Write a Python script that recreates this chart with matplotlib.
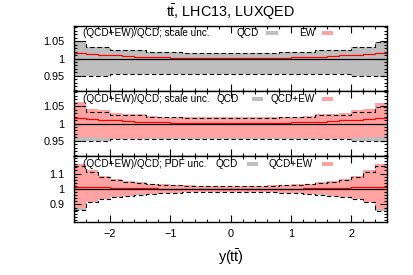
import numpy as np
import matplotlib
matplotlib.use("Agg")
import matplotlib.pyplot as plt
from matplotlib.patches import Rectangle
from matplotlib.ticker import MultipleLocator, FixedLocator

plt.rcParams['font.family'] = ['Liberation Sans', 'DejaVu Sans']
plt.rcParams['mathtext.fontset'] = 'custom'
plt.rcParams['mathtext.rm'] = 'Liberation Sans'
plt.rcParams['mathtext.it'] = 'Liberation Sans:italic'

# bin edges in y(tt)
edges = [-2.6, -2.4, -2.2, -2.0, -1.8, -1.6, -1.4, -1.2, -1.0, -0.8, -0.6, -0.4, -0.2,
         0.0, 0.2, 0.4, 0.6, 0.8, 1.0, 1.2, 1.4, 1.6, 1.8, 2.0, 2.2, 2.4, 2.6]

# (QCD+EW)/QCD central ratio
ratio = [1.016, 1.013, 1.011, 1.009, 1.007, 1.005, 1.004, 1.003, 1.002, 1.002, 1.001, 1.001, 1.001,
         1.001, 1.001, 1.001, 1.002, 1.002, 1.003, 1.004, 1.005, 1.007, 1.009, 1.011, 1.013, 1.016]

# QCD scale uncertainty band
scale_up = [1.050, 1.034, 1.034, 1.024, 1.024, 1.023, 1.018, 1.018, 1.018, 1.017, 1.017, 1.017, 1.017,
            1.017, 1.017, 1.017, 1.017, 1.018, 1.018, 1.018, 1.023, 1.024, 1.024, 1.034, 1.034, 1.048]
scale_dn = [0.950, 0.950, 0.950, 0.956, 0.956, 0.956, 0.957, 0.957, 0.957, 0.957, 0.957, 0.957, 0.957,
            0.957, 0.957, 0.957, 0.957, 0.957, 0.957, 0.957, 0.956, 0.956, 0.956, 0.950, 0.950, 0.950]

# QCD+EW scale uncertainty band
scale_ew_up = [1.062, 1.042, 1.040, 1.030, 1.028, 1.027, 1.021, 1.020, 1.020, 1.019, 1.019, 1.018, 1.018,
               1.018, 1.018, 1.019, 1.019, 1.020, 1.020, 1.021, 1.027, 1.028, 1.030, 1.038, 1.042, 1.060]
scale_ew_dn = [0.961, 0.960, 0.959, 0.957, 0.957, 0.957, 0.958, 0.958, 0.958, 0.958, 0.958, 0.958, 0.958,
               0.958, 0.958, 0.958, 0.958, 0.958, 0.958, 0.958, 0.957, 0.957, 0.957, 0.959, 0.960, 0.961]

# QCD PDF uncertainty band
pdf_up = [1.150, 1.112, 1.080, 1.058, 1.047, 1.038, 1.032, 1.027, 1.024, 1.022, 1.021, 1.020, 1.020,
          1.020, 1.020, 1.021, 1.022, 1.024, 1.027, 1.032, 1.038, 1.047, 1.058, 1.080, 1.112, 1.150]
pdf_dn = [0.862, 0.915, 0.935, 0.950, 0.957, 0.964, 0.969, 0.973, 0.976, 0.978, 0.979, 0.980, 0.980,
          0.980, 0.980, 0.979, 0.978, 0.976, 0.973, 0.969, 0.964, 0.957, 0.950, 0.935, 0.915, 0.858]

# QCD+EW PDF uncertainty band
pdf_ew_up = [1.162, 1.120, 1.087, 1.064, 1.052, 1.042, 1.035, 1.030, 1.026, 1.024, 1.022, 1.021, 1.021,
             1.021, 1.021, 1.022, 1.024, 1.026, 1.030, 1.035, 1.042, 1.052, 1.064, 1.087, 1.120, 1.160]
pdf_ew_dn = [0.876, 0.916, 0.936, 0.951, 0.958, 0.965, 0.970, 0.974, 0.977, 0.979, 0.980, 0.981, 0.981,
             0.981, 0.981, 0.980, 0.979, 0.977, 0.974, 0.970, 0.965, 0.958, 0.951, 0.936, 0.916, 0.872]

GRAY = '#bebebe'
PINK = '#ffa3a3'

edges = np.array(edges)
centers = 0.5 * (edges[1:] + edges[:-1])
widths = np.diff(edges)


def band(ax, up, dn, color):
    up = np.array(up)
    dn = np.array(dn)
    ax.bar(centers, up - dn, bottom=dn, width=widths, color=color, linewidth=0)


def dashed(ax, up, dn):
    ax.stairs(up, edges, baseline=None, color='black', ls=(0, (4, 2.5)), lw=0.8)
    ax.stairs(dn, edges, baseline=None, color='black', ls=(0, (4, 2.5)), lw=0.8)


def central(ax):
    ax.axhline(1.0, color='black', lw=0.9)
    ax.stairs(ratio, edges, baseline=None, color='red', lw=0.9)


def legend_entry(ax, label, xt, xb, color, y):
    ax.text(xt, y, label, transform=ax.transAxes, fontsize=7.2, va='center')
    ax.add_patch(Rectangle((xb, y - 0.03), 0.037, 0.06, transform=ax.transAxes,
                           facecolor=color, edgecolor='none', clip_on=False))


fig = plt.figure(figsize=(4.13, 2.75), dpi=100)
L, R = 74 / 413, 387.3 / 413
tops = [26, 91, 156]
bots = [91, 156, 222]
axes = []
for t, b in zip(tops, bots):
    axes.append(fig.add_axes([L, 1 - b / 275, R - L, (b - t) / 275]))

ax1, ax2, ax3 = axes

# panel 1: QCD scale band with EW ratio
band(ax1, scale_up, scale_dn, GRAY)
dashed(ax1, scale_up, scale_dn)
central(ax1)

# panel 2: QCD+EW scale band on top of QCD
band(ax2, scale_up, scale_dn, GRAY)
band(ax2, scale_ew_up, scale_ew_dn, PINK)
dashed(ax2, scale_up, scale_dn)
central(ax2)

# panel 3: PDF bands
band(ax3, pdf_up, pdf_dn, GRAY)
band(ax3, pdf_ew_up, pdf_ew_dn, PINK)
dashed(ax3, pdf_up, pdf_dn)
central(ax3)

for ax in (ax1, ax2):
    ax.set_ylim(0.907, 1.093)
    ax.yaxis.set_major_locator(FixedLocator([0.95, 1.0, 1.05]))
    ax.yaxis.set_minor_locator(MultipleLocator(0.01))
    ax.set_yticklabels(['0.95', '1', '1.05'])
ax3.set_ylim(0.787, 1.213)
ax3.yaxis.set_major_locator(FixedLocator([0.9, 1.0, 1.1]))
ax3.yaxis.set_minor_locator(MultipleLocator(0.02))
ax3.set_yticklabels(['0.9', '1', '1.1'])

for ax in axes:
    ax.set_xlim(-2.6, 2.6)
    ax.xaxis.set_major_locator(MultipleLocator(1))
    ax.xaxis.set_minor_locator(MultipleLocator(0.2))
    ax.tick_params(which='both', direction='in', top=True, right=True, labelsize=7.8, pad=3)
    ax.tick_params(axis='y', pad=7)
    ax.tick_params(which='major', length=5, width=0.8)
    ax.tick_params(which='minor', length=2.5, width=0.8)
    for s in ax.spines.values():
        s.set_linewidth(1.0)
for ax in (ax1, ax2):
    ax.tick_params(labelbottom=False)

ax3.set_xticks([-2, -1, 0, 1, 2])
ax3.set_xticklabels(['\u22122', '\u22121', '0', '1', '2'])
ax3.tick_params(axis='x', pad=5)

ax1.text(0.029, 0.89, '(QCD+EW)/QCD; scale unc.', transform=ax1.transAxes, fontsize=7.2, va='center')
legend_entry(ax1, 'QCD', 0.519, 0.613, GRAY, 0.89)
legend_entry(ax1, 'EW', 0.718, 0.79, PINK, 0.89)

ax2.text(0.029, 0.875, '(QCD+EW)/QCD; scale unc.', transform=ax2.transAxes, fontsize=7.2, va='center')
legend_entry(ax2, 'QCD', 0.455, 0.567, GRAY, 0.875)
legend_entry(ax2, 'QCD+EW', 0.626, 0.79, PINK, 0.875)

ax3.text(0.029, 0.875, '(QCD+EW)/QCD; PDF unc.', transform=ax3.transAxes, fontsize=7.2, va='center')
legend_entry(ax3, 'QCD', 0.453, 0.551, GRAY, 0.875)
legend_entry(ax3, 'QCD+EW', 0.622, 0.79, PINK, 0.875)

fig.text(231 / 413, 1 - 12 / 275, r't$\bar{\mathrm{t}}$, LHC13, LUXQED', ha='center', va='center', fontsize=10.4)
fig.text(231 / 413, 1 - 257 / 275, r'y(t$\bar{\mathrm{t}}$)', ha='center', va='center', fontsize=10.4)

fig.savefig('out.png', dpi=100)
